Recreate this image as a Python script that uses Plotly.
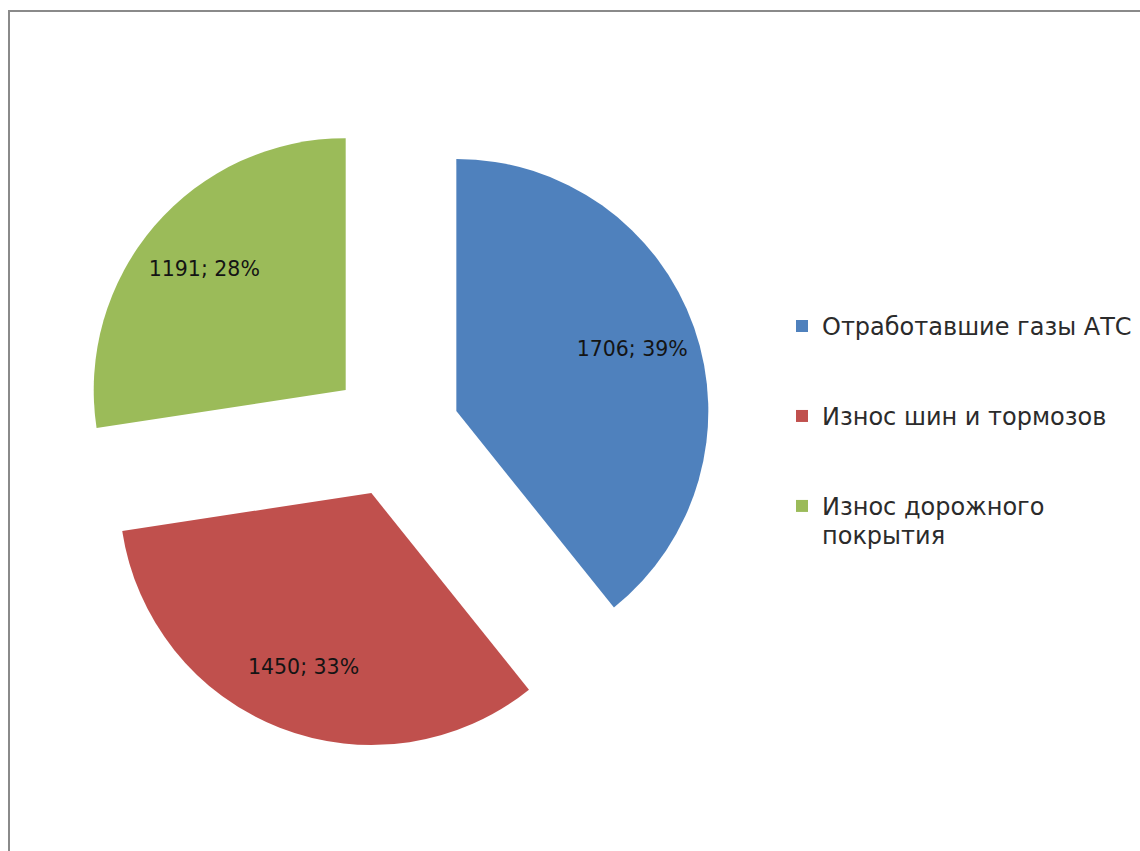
import plotly.graph_objects as go

# Sources of pollution and their amounts
categories = ["Отработавшие газы АТС", "Износ шин и тормозов", "Износ дорожного<br>покрытия"]
values = [1706, 1450, 1191]
pct_labels = ["39%", "33%", "28%"]
colors = ["#4F81BD", "#C0504D", "#9BBB59"]

W, H = 1140, 851
PULL = 0.258
DOMAIN = dict(x=[78 / W, 712 / W], y=[101.5 / H, 735.5 / H])


def legend_entry(text, pad_lines):
    """Legend text with larger glyphs; trailing blank lines widen the gap to the next entry."""
    lines = text.split("<br>")
    body = "<br>".join(f"<span style='font-size:24px'>{ln}</span>" for ln in lines)
    return body + "<br> " * pad_lines


legend_names = [legend_entry(categories[0], 2),
                legend_entry(categories[1], 2),
                legend_entry(categories[2], 0)]

fig = go.Figure()

# Coloured exploded slices
fig.add_trace(
    go.Pie(
        labels=legend_names,
        values=values,
        textinfo="none",
        marker=dict(colors=colors, line=dict(width=0)),
        pull=PULL,
        sort=False,
        direction="clockwise",
        rotation=0,
        customdata=pct_labels,
        hovertemplate="%{value}; %{customdata}<extra></extra>",
        domain=DOMAIN,
        showlegend=True,
    )
)

# Transparent ring on the same geometry that carries the data labels further out
fig.add_trace(
    go.Pie(
        labels=legend_names,
        values=values,
        customdata=pct_labels,
        texttemplate="%{value}; %{customdata}",
        textposition="inside",
        insidetextorientation="horizontal",
        textfont=dict(family="DejaVu Sans", size=20.5, color="#141414"),
        marker=dict(colors=["rgba(0,0,0,0)"] * len(values), line=dict(width=0)),
        hole=0.48,
        pull=PULL,
        sort=False,
        direction="clockwise",
        rotation=0,
        hoverinfo="skip",
        domain=DOMAIN,
        showlegend=False,
    )
)

fig.update_layout(
    width=W,
    height=H,
    margin=dict(l=0, r=0, t=0, b=0),
    paper_bgcolor="white",
    plot_bgcolor="white",
    showlegend=True,
    legend=dict(
        x=782 / W,
        xanchor="left",
        y=(H - 305) / H,
        yanchor="top",
        valign="top",
        font=dict(family="DejaVu Sans", size=22.3, color="#2b2b2b"),
        bgcolor="rgba(0,0,0,0)",
        traceorder="normal",
    ),
    shapes=[
        dict(
            type="rect",
            xref="paper",
            yref="paper",
            x0=9 / W,
            x1=1.05,
            y0=-0.05,
            y1=(H - 11) / H,
            line=dict(color="#8a8a8a", width=2),
            fillcolor="rgba(0,0,0,0)",
            layer="below",
        )
    ],
)

fig.write_html("out.html")
